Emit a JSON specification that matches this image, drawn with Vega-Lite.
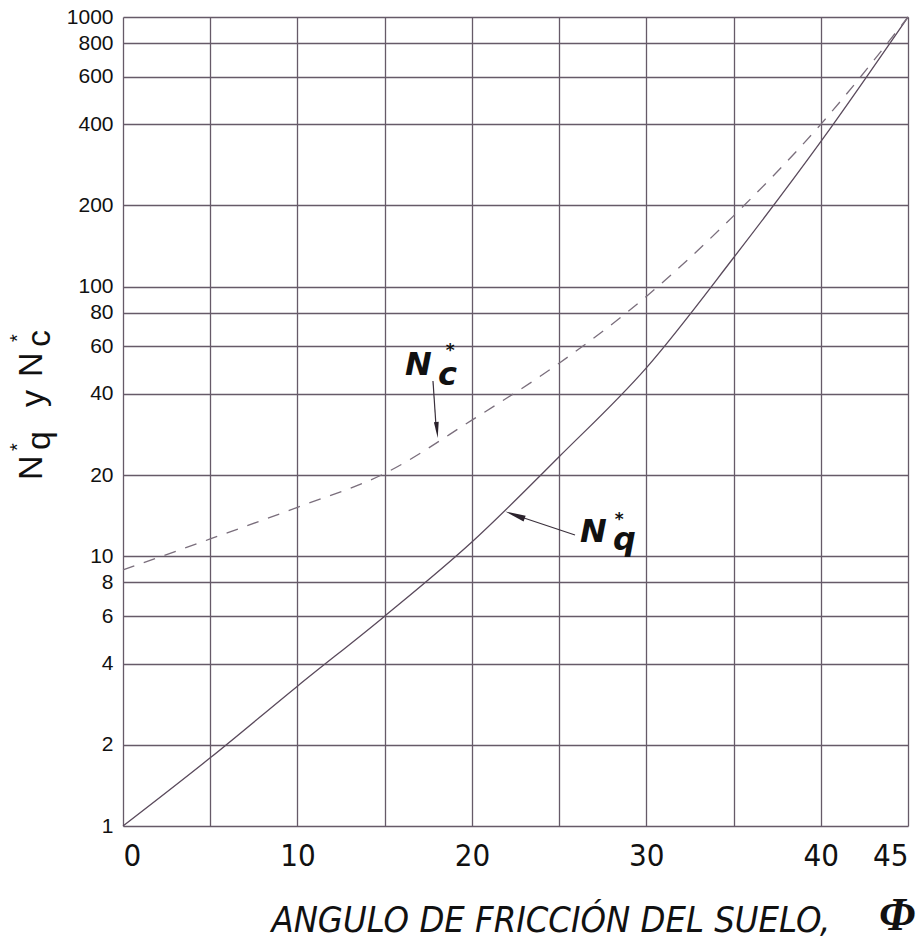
{
  "$schema": "https://vega.github.io/schema/vega-lite/v6.json",
  "width": 785,
  "height": 809,
  "autosize": {"type": "none"},
  "padding": {"left": 123, "top": 17, "right": 15, "bottom": 114},
  "background": "white",
  "config": {"view": {"stroke": null}},
  "datasets": {
    "nq": [
      {"phi": 0, "val": 1.0}, {"phi": 5, "val": 1.79}, {"phi": 10, "val": 3.3},
      {"phi": 15, "val": 6.0}, {"phi": 20, "val": 11.3}, {"phi": 25, "val": 23.4},
      {"phi": 30, "val": 50}, {"phi": 35, "val": 128}, {"phi": 40, "val": 345},
      {"phi": 45, "val": 1000}
    ],
    "nc": [
      {"phi": 0, "val": 8.9}, {"phi": 5, "val": 11.6}, {"phi": 10, "val": 15.2},
      {"phi": 15, "val": 20.3}, {"phi": 20, "val": 32}, {"phi": 25, "val": 52},
      {"phi": 30, "val": 92}, {"phi": 35, "val": 183}, {"phi": 40, "val": 400},
      {"phi": 45, "val": 1000}
    ],
    "ytitle": [
      {"phi": -4.64, "val": 19.2, "t": "N"},
      {"phi": -4.19, "val": 24.8, "t": "q"},
      {"phi": -4.53, "val": 35.8, "t": "y"},
      {"phi": -4.64, "val": 46.2, "t": "N"},
      {"phi": -4.19, "val": 59.7, "t": "c"}
    ],
    "ystars": [
      {"phi": -5.65, "val": 25.4, "t": "*"},
      {"phi": -5.65, "val": 64.5, "t": "*"}
    ],
    "ann": [
      {"phi": 16.17, "val": 47.0, "t": "N"},
      {"phi": 18.06, "val": 43.2, "t": "c"},
      {"phi": 26.2, "val": 11.3, "t": "N"},
      {"phi": 28.09, "val": 10.55, "t": "q"}
    ],
    "annstars": [
      {"phi": 18.75, "val": 55.5, "t": "*"},
      {"phi": 28.45, "val": 13.1, "t": "*"}
    ],
    "arrows": [
      {"phi": 17.77, "val": 44.7, "phi2": 17.94, "val2": 30.7},
      {"phi": 25.91, "val": 12.0, "phi2": 22.47, "val2": 14.23}
    ],
    "headc": [{"phi": 18.0, "val": 29.4}],
    "headq": [{"phi": 22.47, "val": 14.23}],
    "phisym": [{"phi": 44.38, "val": 0.411, "t": "Φ"}]
  },
  "encoding": {
    "x": {
      "field": "phi", "type": "quantitative",
      "scale": {"domain": [0, 45], "nice": false, "zero": false},
      "axis": {
        "values": [0, 5, 10, 15, 20, 25, 30, 35, 40, 45],
        "labelExpr": "datum.value % 10 === 0 || datum.value === 45 ? datum.label : ''",
        "grid": true, "gridColor": "#665a68", "gridWidth": 1.3, "gridOpacity": 1,
        "ticks": false, "domain": false, "labelFlush": true, "labelOverlap": false,
        "labelFont": "Liberation Sans Narrow, DejaVu Sans Condensed, Roboto Condensed, Liberation Sans, sans-serif", "labelFontSize": 31, "labelColor": "#111111",
        "labelPadding": 15,
        "title": "ANGULO DE FRICCIÓN DEL SUELO,",
        "titleFont": "Liberation Sans Narrow, DejaVu Sans Condensed, Roboto Condensed, Liberation Sans, sans-serif", "titleFontStyle": "italic", "titleFontWeight": "normal",
        "titleFontSize": 36, "titleColor": "#111111",
        "titleAnchor": "start", "titleAlign": "left", "titleBaseline": "alphabetic",
        "titleX": 148, "titleY": 105
      }
    },
    "y": {
      "field": "val", "type": "quantitative",
      "scale": {"type": "log", "domain": [1, 1000], "nice": false},
      "axis": {
        "values": [1, 2, 4, 6, 8, 10, 20, 40, 60, 80, 100, 200, 400, 600, 800, 1000],
        "format": "d",
        "grid": true, "gridColor": "#665a68", "gridWidth": 1.3, "gridOpacity": 1,
        "ticks": false, "domain": false, "labelOverlap": false, "labelFlush": false,
        "labelFont": "Liberation Sans", "labelFontSize": 21, "labelColor": "#111111",
        "labelPadding": 10,
        "title": null
      }
    }
  },
  "layer": [
    {
      "data": {"name": "nq"},
      "mark": {"type": "line", "interpolate": "monotone", "color": "#5a4a5c", "strokeWidth": 1.3}
    },
    {
      "data": {"name": "nc"},
      "mark": {"type": "line", "interpolate": "monotone", "color": "#7a6e7c", "strokeWidth": 1.3, "strokeDash": [12, 10]}
    },
    {
      "data": {"name": "arrows"},
      "mark": {"type": "rule", "color": "#3a303c", "strokeWidth": 1.2},
      "encoding": {"x2": {"field": "phi2"}, "y2": {"field": "val2"}}
    },
    {
      "data": {"name": "headc"},
      "mark": {"type": "point", "filled": true, "color": "#2a222c", "opacity": 1, "shape": "M -0.3 -1 L 0.3 -1 L 0 1 Z", "size": 256, "angle": 355}
    },
    {
      "data": {"name": "headq"},
      "mark": {"type": "point", "filled": true, "color": "#2a222c", "opacity": 1, "shape": "M -0.3 -1 L 0.3 -1 L 0 1 Z", "size": 420, "angle": 110}
    },
    {
      "data": {"name": "ytitle"},
      "mark": {"type": "text", "angle": 270, "align": "left", "baseline": "alphabetic", "font": "Liberation Sans", "fontSize": 34, "color": "#111111"},
      "encoding": {"text": {"field": "t"}}
    },
    {
      "data": {"name": "ystars"},
      "mark": {"type": "text", "angle": 270, "align": "center", "baseline": "alphabetic", "font": "Liberation Sans", "fontSize": 20, "color": "#111111"},
      "encoding": {"text": {"field": "t"}}
    },
    {
      "data": {"name": "ann"},
      "mark": {"type": "text", "align": "left", "baseline": "alphabetic", "font": "DejaVu Sans", "fontStyle": "italic", "fontWeight": "bold", "fontSize": 32, "color": "#111111"},
      "encoding": {"text": {"field": "t"}}
    },
    {
      "data": {"name": "annstars"},
      "mark": {"type": "text", "align": "center", "baseline": "alphabetic", "font": "DejaVu Sans", "fontWeight": "bold", "fontSize": 17, "color": "#111111"},
      "encoding": {"text": {"field": "t"}}
    },
    {
      "data": {"name": "phisym"},
      "mark": {"type": "text", "align": "center", "baseline": "alphabetic", "font": "Liberation Serif", "fontStyle": "italic", "fontWeight": "bold", "fontSize": 46, "color": "#111111"},
      "encoding": {"text": {"field": "t"}}
    }
  ]
}
